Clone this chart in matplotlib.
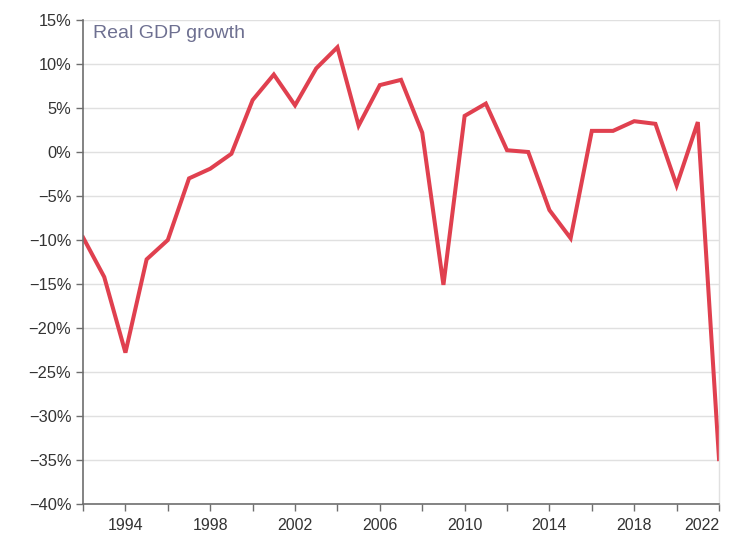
import numpy as np
import matplotlib.pyplot as plt
from matplotlib.ticker import FuncFormatter, MultipleLocator

plt.rcParams['font.family'] = ['Liberation Sans', 'DejaVu Sans']

# Real GDP growth, % per year
years = list(range(1992, 2023))
growth = [
    -9.7, -14.2, -22.8, -12.2, -10.0, -3.0, -1.9, -0.2, 5.9, 8.8,
    5.3, 9.5, 11.9, 3.0, 7.6, 8.2, 2.2, -15.1, 4.1, 5.5,
    0.2, 0.0, -6.6, -9.8, 2.4, 2.4, 3.5, 3.2, -3.8, 3.4,
    -34.9,
]
label_years = [1994, 1998, 2002, 2006, 2010, 2014, 2018, 2022]

fig = plt.figure(figsize=(7.5, 5.6), dpi=100)
ax = fig.add_axes([0.1107, 0.1, 0.848, 0.8643])

ax.plot(years, growth, color='#e0404f', linewidth=2.9, solid_joinstyle='miter')

ax.set_xlim(1992, 2022)
ax.set_ylim(-40, 15)

# horizontal grid
ax.yaxis.set_major_locator(MultipleLocator(5))
ax.grid(axis='y', color='#e0e0e0', linewidth=1)
ax.set_axisbelow(True)

ax.yaxis.set_major_formatter(
    FuncFormatter(lambda v, p: f"{v:.0f}%".replace('-', '\u2212'))
)

# x ticks every 2 years, labels every 4
ax.set_xticks(list(range(1992, 2023, 2)))
ax.set_xticklabels([str(y) if y in label_years else '' for y in range(1992, 2023, 2)])
for lbl, y in zip(ax.get_xticklabels(), range(1992, 2023, 2)):
    if y == 2022:
        lbl.set_horizontalalignment('right')

ax.tick_params(axis='both', colors='#6e6e6e', labelcolor='#333333',
               length=5, width=1, labelsize=11.8)
ax.tick_params(axis='x', labelsize=11.5, pad=5)

for side in ['left', 'bottom']:
    ax.spines[side].set_color('#6e6e6e')
    ax.spines[side].set_linewidth(1.2)
ax.spines['top'].set_visible(False)
ax.spines['right'].set_color('#e0e0e0')
ax.spines['right'].set_linewidth(1)

ax.text(0.016, 0.973, 'Real GDP growth', transform=ax.transAxes,
        ha='left', va='center', fontsize=14, color='#6e7091')

plt.savefig('out.png', dpi=100)
plt.close()
